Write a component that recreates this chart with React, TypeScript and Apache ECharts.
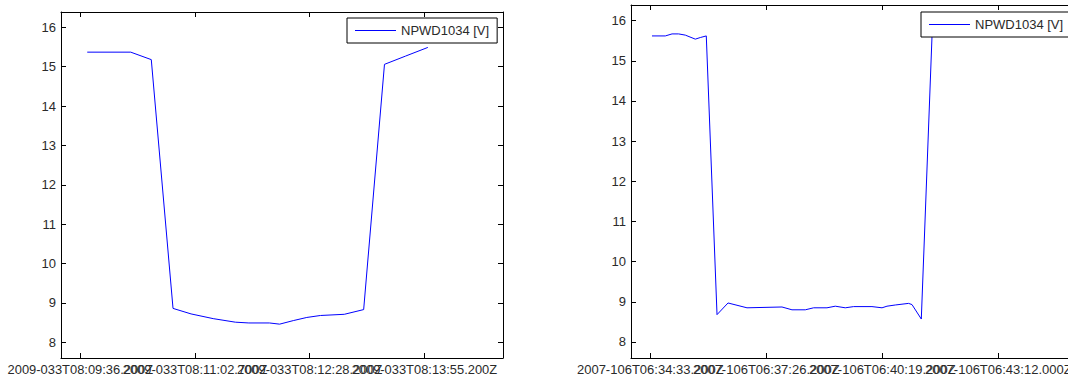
import React, { useEffect, useRef } from "react";
import * as echarts from "echarts";

// ---- Left panel (2009-033) : seconds after first tick, volts ----
const leftTimes = [5.2, 38.0, 53.5, 69.9, 83.5, 100.2, 116.9, 127.1, 142.6, 150.3, 160.6, 170.8, 181.1, 199.1, 213.7, 229.4, 245.3, 262.1];
const leftVolts = [15.37, 15.37, 15.18, 8.86, 8.72, 8.6, 8.51, 8.49, 8.49, 8.46, 8.55, 8.63, 8.68, 8.71, 8.83, 15.06, 15.27, 15.49];
const leftTicks = [0, 86.5, 173, 259.5];
const leftTickLabels = [
  "2009-033T08:09:36.200Z",
  "2009-033T08:11:02.700Z",
  "2009-033T08:12:28.200Z",
  "2009-033T08:13:55.200Z",
];

// ---- Right panel (2007-106) ----
const rightTimes = [2.5, 22.4, 32.4, 42.2, 52.2, 67.1, 74.6, 83.5, 99.5, 115.9, 144.2, 196.4, 211.3, 231.2, 243.6, 263.5, 275.9, 290.8, 303.2, 330.6, 345.6, 353.0, 365.4, 385.2, 390.3, 404.2, 420.1, 423.0, 470, 520];
const rightVolts = [15.62, 15.62, 15.67, 15.67, 15.64, 15.54, 15.58, 15.62, 8.68, 8.97, 8.85, 8.87, 8.8, 8.8, 8.85, 8.85, 8.89, 8.85, 8.88, 8.88, 8.85, 8.89, 8.92, 8.96, 8.93, 8.57, 15.59, 15.65, 15.66, 15.65];
const rightTicks = [0, 173, 346, 519];
const rightTickLabels = [
  "2007-106T06:34:33.200Z",
  "2007-106T06:37:26.200Z",
  "2007-106T06:40:19.200Z",
  "2007-106T06:43:12.000Z",
];

const yTicks = [8, 9, 10, 11, 12, 13, 14, 15, 16];
const seriesName = "NPWD1034 [V]";

const FONT = "'Liberation Sans', Arial, sans-serif";
const TXT = "#2a2a2a";

function pairs(xs: number[], ys: number[]) {
  return xs.map((x, i) => [x, ys[i]]);
}

function labelFor(ticks: number[], labels: string[]) {
  return (v: number) => {
    let best = 0;
    for (let i = 1; i < ticks.length; i++) {
      if (Math.abs(ticks[i] - v) < Math.abs(ticks[best] - v)) best = i;
    }
    return labels[best];
  };
}

// three x axes per grid: bottom (line, ticks, even labels), top (line, ticks), bottom (odd labels only)
function xAxes(grid: number, min: number, max: number, ticks: number[], labels: string[], fs: number) {
  const line = { show: true, onZero: false, lineStyle: { color: "#000", width: 1 } };
  const tick = { show: true, inside: true, length: 5, customValues: ticks, lineStyle: { color: "#000" } };
  const lab = (vals: number[]) => ({
    show: true,
    customValues: vals,
    margin: 5,
    hideOverlap: false,
    showMinLabel: true,
    showMaxLabel: true,
    color: TXT,
    fontSize: fs,
    fontFamily: FONT,
    formatter: labelFor(ticks, labels),
  });
  const base = { type: "value", gridIndex: grid, min, max, splitLine: { show: false } };
  const even = ticks.filter((_, i) => i % 2 === 0);
  const odd = ticks.filter((_, i) => i % 2 === 1);
  return [
    { ...base, position: "bottom", axisLine: line, axisTick: tick, axisLabel: lab(even) },
    { ...base, position: "top", axisLine: line, axisTick: tick, axisLabel: { show: false } },
    {
      ...base,
      position: "bottom",
      axisLine: { show: false, onZero: false },
      axisTick: { show: false },
      axisLabel: lab(odd),
    },
  ];
}

function yAxes(grid: number, fs: number) {
  const common = {
    type: "value",
    gridIndex: grid,
    min: 7.6,
    max: 16.39,
    splitLine: { show: false },
    axisLine: { show: true, onZero: false, lineStyle: { color: "#000", width: 1 } },
    axisTick: { show: true, inside: true, length: 5, customValues: yTicks, lineStyle: { color: "#000" } },
  };
  return [
    {
      ...common,
      position: "left",
      axisLabel: {
        show: true,
        customValues: yTicks,
        margin: 5,
        showMinLabel: true,
        showMaxLabel: true,
        color: TXT,
        fontSize: fs,
        fontFamily: FONT,
      },
    },
    { ...common, position: "right", axisLabel: { show: false } },
  ];
}

function legendAt(left: number, top: number) {
  return {
    data: [seriesName],
    left,
    top,
    orient: "horizontal",
    icon: "rect",
    itemWidth: 41,
    itemHeight: 1,
    padding: [6, 8, 6, 8],
    backgroundColor: "#fff",
    borderColor: "#000",
    borderWidth: 1,
    borderRadius: 0,
    selectedMode: false,
    textStyle: { color: TXT, fontSize: 13, fontFamily: FONT },
  };
}

export default function App() {
  const ref = useRef<HTMLDivElement>(null);
  useEffect(() => {
    document.body.style.margin = "0";
    if (!ref.current) return;
    const chart = echarts.init(ref.current, undefined, { renderer: "svg" });
    chart.setOption({
      animation: false,
      backgroundColor: "#fff",
      grid: [
        { left: 61, top: 12, width: 442, height: 346, containLabel: false, outerBoundsMode: "none" },
        { left: 631, top: 5, width: 447, height: 353, containLabel: false, outerBoundsMode: "none" },
      ],
      xAxis: [
        ...xAxes(0, -14.6, 318.8, leftTicks, leftTickLabels, 12.9),
        ...xAxes(1, -28.8, 637.9, rightTicks, rightTickLabels, 13),
      ],
      yAxis: [...yAxes(0, 13), ...yAxes(1, 13)],
      legend: [legendAt(347, 18), legendAt(921, 12)],
      series: [
        {
          name: seriesName,
          type: "line",
          xAxisIndex: 0,
          yAxisIndex: 0,
          data: pairs(leftTimes, leftVolts),
          showSymbol: false,
          symbol: "none",
          lineStyle: { color: "#0000ff", width: 1 },
          itemStyle: { color: "#0000ff" },
          clip: true,
        },
        {
          name: seriesName,
          type: "line",
          xAxisIndex: 3,
          yAxisIndex: 2,
          data: pairs(rightTimes, rightVolts),
          showSymbol: false,
          symbol: "none",
          lineStyle: { color: "#0000ff", width: 1 },
          itemStyle: { color: "#0000ff" },
          clip: true,
        },
      ],
    });
    return () => chart.dispose();
  }, []);
  return <div ref={ref} style={{ width: 1068, height: 377 }} />;
}
